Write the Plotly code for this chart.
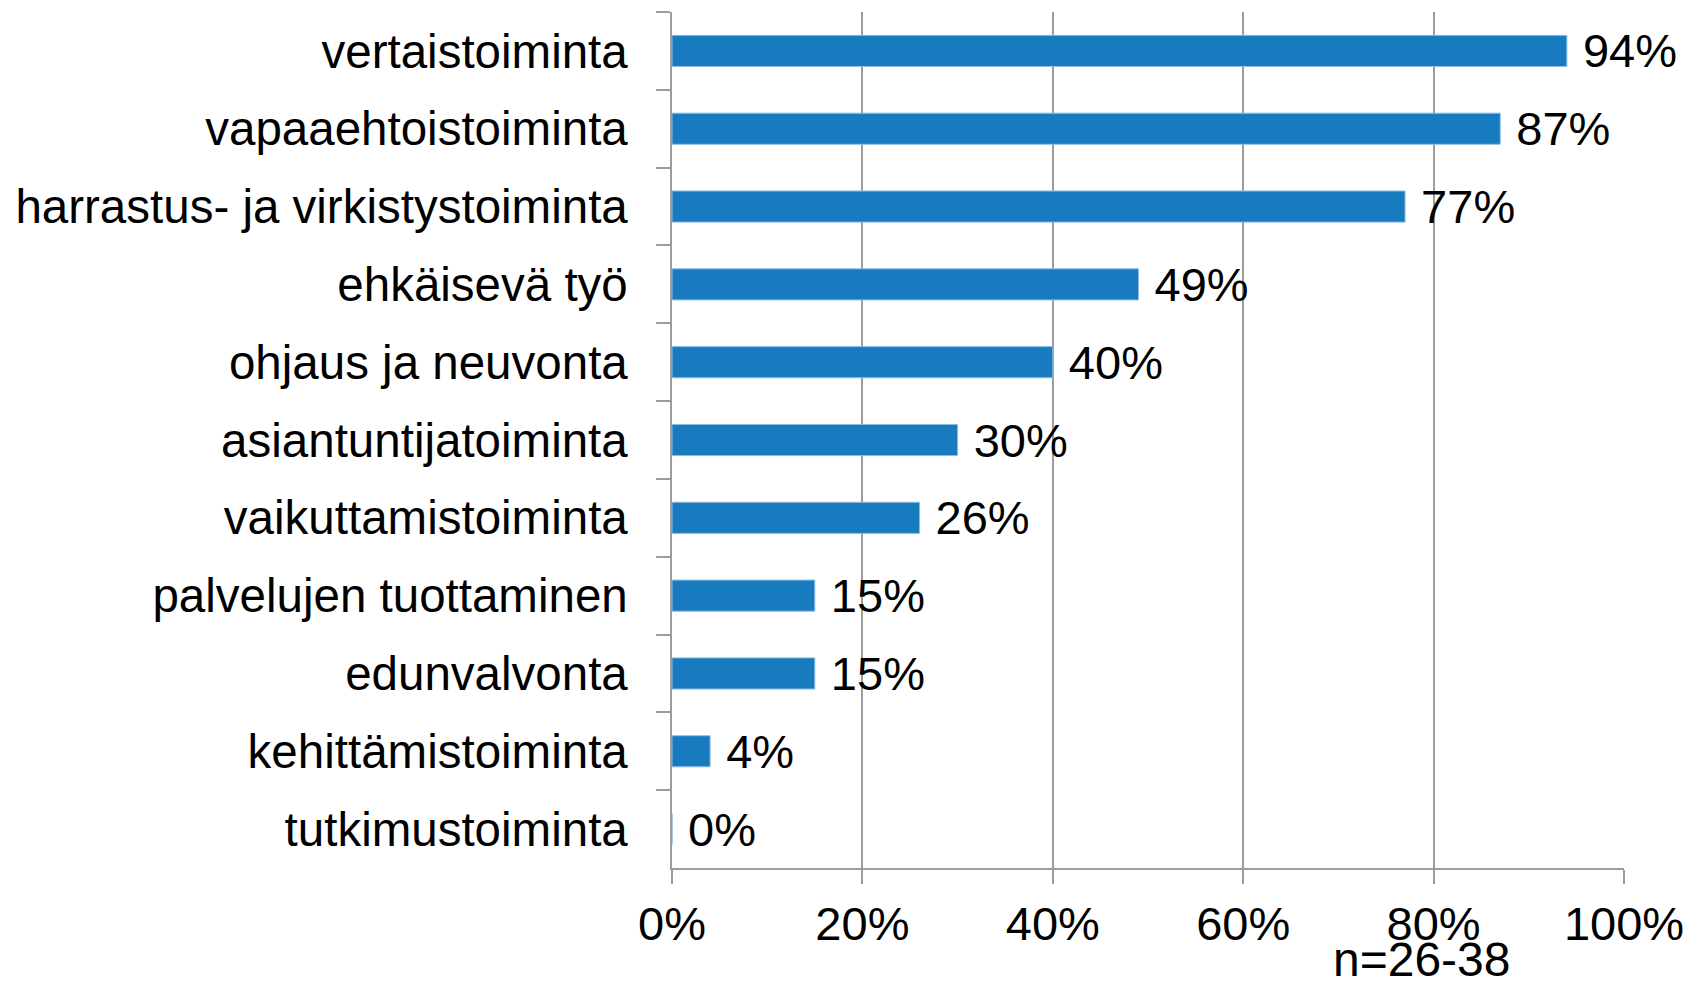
import plotly.graph_objects as go

# Categories top to bottom and their shares (%)
categories = [
    'vertaistoiminta',
    'vapaaehtoistoiminta',
    'harrastus- ja virkistystoiminta',
    'ehkäisevä työ',
    'ohjaus ja neuvonta',
    'asiantuntijatoiminta',
    'vaikuttamistoiminta',
    'palvelujen tuottaminen',
    'edunvalvonta',
    'kehittämistoiminta',
    'tutkimustoiminta',
]
shares = [94, 87, 77, 49, 40, 30, 26, 15, 15, 4, 0]
x_ticks = [0, 20, 40, 60, 80, 100]
x_tick_labels = ['0%', '20%', '40%', '60%', '80%', '100%']
n_note = 'n=26-38'

FONT = 'Liberation Sans, Arial, sans-serif'
GRID = '#9c9c9c'
FS = 47

fig = go.Figure(
    go.Bar(
        x=shares,
        y=categories,
        orientation='h',
        marker=dict(color='#187bc0', line=dict(color='#8fbde0', width=1)),
        text=['\u00a0' + str(v) + '%' for v in shares],
        textposition='outside',
        constraintext='none',
        textfont=dict(size=FS, color='black', family=FONT),
        cliponaxis=False,
        width=0.4,
    )
)

# page body has an 8px margin, so the figure is a bit smaller than the window
fig.update_layout(
    width=1686,
    height=970,
    margin=dict(l=664, r=70, t=4, b=110),
    paper_bgcolor='white',
    plot_bgcolor='white',
    font=dict(family=FONT, size=FS, color='black'),
    showlegend=False,
    annotations=[
        dict(text=n_note, xref='paper', yref='paper', x=0.692, y=-0.107,
             xanchor='left', yanchor='middle', showarrow=False,
             font=dict(size=48, color='black', family=FONT))
    ],
)

fig.update_xaxes(
    range=[0, 100],
    tickvals=x_ticks,
    ticktext=x_tick_labels,
    showgrid=True,
    gridcolor=GRID,
    gridwidth=1.5,
    showline=True,
    linecolor=GRID,
    linewidth=1.5,
    ticks='outside',
    ticklen=14,
    tickcolor=GRID,
    tickwidth=1.5,
    zeroline=False,
    tickfont=dict(size=FS),
    ticklabelstandoff=0,
)

fig.update_yaxes(
    autorange='reversed',
    showline=True,
    linecolor=GRID,
    linewidth=1.5,
    ticks='outside',
    tickson='boundaries',
    ticklen=14,
    tickcolor=GRID,
    tickwidth=1.5,
    showgrid=False,
    tickfont=dict(size=47.5),
    ticklabelstandoff=33,
)

fig.write_html('out.html')
